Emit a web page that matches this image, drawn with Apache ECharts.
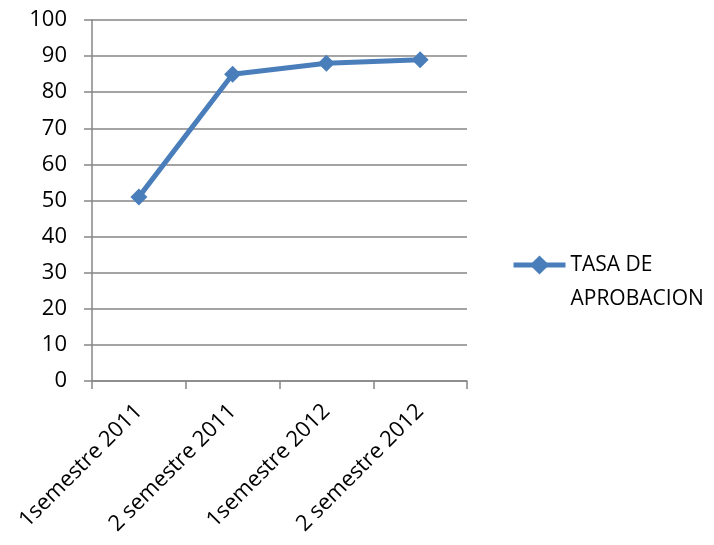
<!DOCTYPE html>
<html><head><meta charset="utf-8">
<script src="https://cdn.jsdelivr.net/npm/echarts@6/dist/echarts.min.js"></script>
<style>html,body{margin:0;padding:0;background:#fff}#c{width:714px;height:545px}</style>
</head><body><div id="c"></div>
<script>
const categories = ['1semestre 2011', '2 semestre 2011', '1semestre 2012', '2 semestre 2012'];
const tasaAprobacion = [51, 85, 88, 89];
const seriesName = 'TASA DE APROBACION';
const legendLines = ['TASA DE', 'APROBACION'];
const yMin = 0, yMax = 100, yInterval = 10;

const chart = echarts.init(document.getElementById('c'));
const font = 'Open Sans, Liberation Sans, sans-serif';
chart.setOption({
  animation: false,
  backgroundColor: '#fff',
  grid: { left: 92, right: 247, top: 20, bottom: 164, containLabel: false },
  legend: {
    show: true, left: 506, top: 209, orient: 'vertical',
    itemWidth: 52, itemHeight: 24, itemGap: 0,
    formatter: () => '\u00a0\n' + legendLines.join('\n'),
    textStyle: { fontFamily: font, fontSize: 21, color: '#000', lineHeight: 34 },
    lineStyle: { width: 5, color: '#4A7EBB' },
    itemStyle: { color: '#4A7EBB' },
    data: [{ name: seriesName }]
  },
  xAxis: {
    type: 'category', data: categories, boundaryGap: true,
    axisLine: { lineStyle: { color: '#868686', width: 1.5 } },
    axisTick: { show: true, length: 8, alignWithLabel: false, lineStyle: { color: '#868686', width: 1.5 } },
    axisLabel: { rotate: 45, interval: 0, margin: 27, fontFamily: font, fontSize: 22, color: '#000' }
  },
  yAxis: {
    type: 'value', min: yMin, max: yMax, interval: yInterval,
    axisLine: { show: true, lineStyle: { color: '#868686', width: 1.5 } },
    axisTick: { show: true, length: 8, inside: false, lineStyle: { color: '#868686', width: 1.5 } },
    splitLine: { show: true, lineStyle: { color: '#868686', width: 1.5 } },
    axisLabel: { margin: 25, fontFamily: font, fontSize: 22, color: '#000' }
  },
  series: [{
    name: seriesName, type: 'line', data: tasaAprobacion,
    symbol: 'diamond', symbolSize: 17,
    lineStyle: { color: '#4A7EBB', width: 5 },
    itemStyle: { color: '#4A7EBB' }
  }]
});
</script></body></html>
